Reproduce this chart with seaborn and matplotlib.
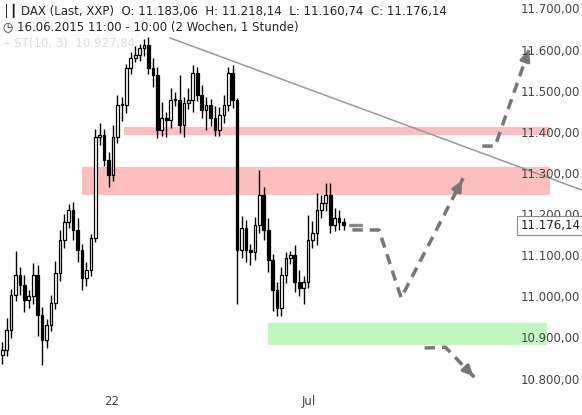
import matplotlib
matplotlib.use("Agg")
import matplotlib.pyplot as plt
import seaborn as sns
import numpy as np
import pandas as pd

sns.set_theme(style="white")
plt.rcParams['font.family'] = ['DejaVu Sans']

closes = [10873, 10922, 11007, 11055, 11031, 10995, 11004, 11055, 10958, 10897, 10934, 10987,
          11060, 11141, 11184, 11214, 11165, 11116, 11048, 11068, 11145, 11391, 11396, 11335,
          11299, 11391, 11469, 11469, 11559, 11583, 11591, 11608, 11615, 11559, 11542, 11408,
          11437, 11432, 11481, 11481, 11420, 11474, 11481, 11547, 11493, 11457, 11469, 11437,
          11408, 11445, 11469, 11547, 11481, 11116, 11170, 11116, 11111, 11177, 11250, 11165,
          11092, 11019, 10975, 11055, 11097, 11104, 11038, 11024, 11038, 11141, 11158, 11214,
          11230, 11250, 11177, 11194, 11184, 11176]
up_wick = [20, 30, 15, 60, 20, 25, 15, 30, 25, 20, 15, 20, 30, 25, 20, 15, 20, 30, 15, 20,
           10, 20, 30, 15, 20, 30, 25, 20, 10, 15, 20, 10, 15, 20, 25, 20, 40, 15, 30, 20,
           60, 15, 30, 20, 15, 25, 20, 15, 30, 20, 25, 15, 20, 5, 30, 20, 15, 20, 60, 20,
           30, 15, 20, 20, 15, 10, 25, 30, 15, 60, 30, 40, 20, 30, 30, 25, 20, 10]
dn_wick = [20, 15, 20, 15, 25, 30, 20, 20, 50, 60, 20, 15, 15, 20, 20, 15, 25, 30, 30, 20,
           15, 10, 20, 15, 30, 15, 15, 40, 20, 15, 10, 15, 20, 15, 30, 20, 15, 40, 20, 15,
           20, 30, 15, 30, 15, 20, 50, 20, 15, 15, 20, 15, 20, 130, 20, 30, 30, 20, 20, 25,
           30, 50, 20, 20, 20, 15, 25, 20, 40, 15, 20, 30, 20, 20, 20, 15, 20, 10]
first_open = 10860

ytick_vals = [10800, 10900, 11000, 11100, 11200, 11300, 11400, 11500, 11600, 11700]
date_ticks = [24.7, 69.2]
date_labels = ["22", "Jul"]

zones_red = [(27.5, 11396, 11415), (18, 11250, 11318)]
zone_green = (60, 10885, 10939)
trend_x = [37.8, 130.8]
trend_y = [11632, 11262]
arrows = [([79, 85, 90, 104], [11165, 11165, 11000, 11291]),
          ([108.3, 111.2, 119], [11369, 11369, 11608]),
          ([95.3, 100, 106.7], [10878, 10880, 10805])]

n = len(closes)
opens = [first_open] + closes[:-1]
df = pd.DataFrame({"i": np.arange(n), "open": opens, "close": closes})
df["high"] = df[["open", "close"]].max(axis=1) + np.array(up_wick)
df["low"] = df[["open", "close"]].min(axis=1) - np.array(dn_wick)

fig = plt.figure(figsize=(5.82, 4.15), dpi=100)
ax = fig.add_axes([0, 25/415, 1, 390/415])
ax.set_xlim(-0.5, 130.8)
ax.set_ylim(10776, 11724)

for x0, lo, hi in zones_red:
    ax.fill_between([x0, 123.5], lo, hi, color="#ffb3b3", alpha=0.85, lw=0, zorder=1)
ax.fill_between([zone_green[0], 123], zone_green[1], zone_green[2], color="#b8f7b8", alpha=0.9, lw=0, zorder=1)

sns.lineplot(x=trend_x, y=trend_y, ax=ax, color="#999999", lw=1.1, zorder=2)

for _, r in df.iterrows():
    ax.vlines(r.i, r.low, r.high, color="black", lw=1, zorder=3)
    bottom = min(r.open, r.close)
    h = max(abs(r.close - r.open), 2)
    fc = "white" if r.close >= r.open else "black"
    ax.bar(r.i, h, bottom=bottom, width=0.6, color=fc, edgecolor="black", lw=0.9, zorder=4)

for xs, ys in arrows:
    ax.plot(xs, ys, color="#777777", lw=2.5, ls=(0, (3, 2)), zorder=5)
    ax.annotate("", xy=(xs[-1], ys[-1]), xytext=(xs[-2] + (xs[-1]-xs[-2])*0.85, ys[-2] + (ys[-1]-ys[-2])*0.85),
                arrowprops=dict(arrowstyle="-|>", color="#777777", lw=2.5, mutation_scale=14), zorder=5)

for v in ytick_vals:
    s = f"{v:,.2f}".replace(",", "X").replace(".", ",").replace("X", ".")
    ax.text(0.997, v, s, transform=ax.get_yaxis_transform(), ha="right", va="center", fontsize=8.5, color="#444444", zorder=6)
ax.text(0.997, closes[-1], "11.176,14", transform=ax.get_yaxis_transform(), ha="right", va="center", fontsize=8.5,
        color="#222222", zorder=7, bbox=dict(boxstyle="square,pad=0.25", fc="white", ec="#888888", lw=0.8))
ax.plot([78.5, 81], [closes[-1]]*2, color="#888888", lw=2.5, zorder=5)

ax.set_xticks([])
ax.set_yticks([])
for s in ax.spines.values():
    s.set_visible(False)
for xt, lab in zip(date_ticks, date_labels):
    fig.text((xt + 0.5) / 131.3, 14/415, lab, ha="center", va="center", fontsize=8.5, color="#444444")

fig.text(0.005, 0.975, "\u2502\u2503 DAX (Last, XXP)  O: 11.183,06  H: 11.218,14  L: 11.160,74  C: 11.176,14",
         fontsize=8.5, va="center", color="#222222")
fig.text(0.005, 0.935, "\u25F7 16.06.2015 11:00 - 10:00 (2 Wochen, 1 Stunde)", fontsize=8.5, va="center", color="#222222")
fig.text(0.005, 0.895, "\u2012 ST(10, 3)  10.927,84", fontsize=8.5, va="center", color="#dddddd")

fig.savefig("out.png", dpi=100)
